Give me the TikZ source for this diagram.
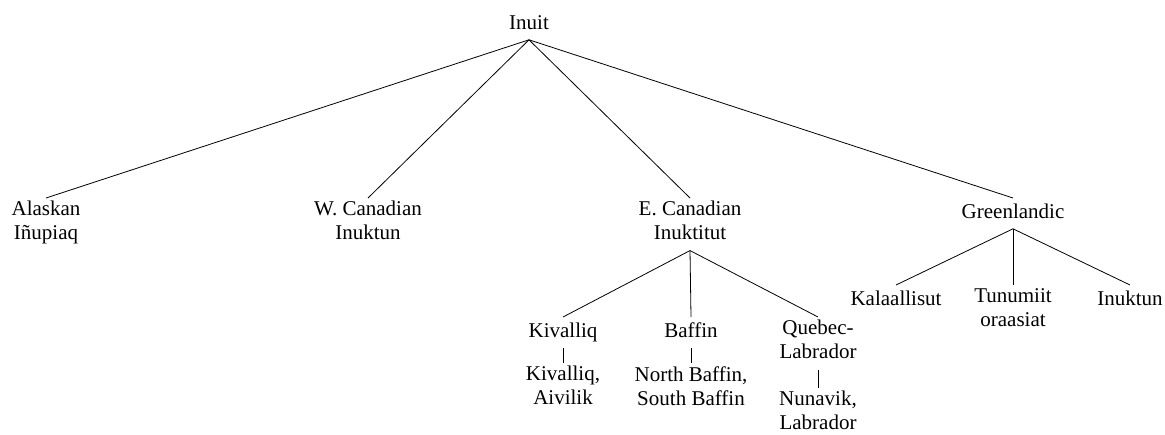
\documentclass[tikz,border=0pt]{standalone}
\usepackage{fontspec}
\setmainfont{Liberation Serif}
\usepackage{tikz}

\begin{document}
\begin{tikzpicture}[x=0.5pt, y=-0.5pt,
		lang/.style={anchor=north, align=center, inner sep=1.5pt,
			font=\fontsize{10.5}{12}\selectfont,
			execute at begin node=\strut, execute at end node=\strut}]
		\useasboundingbox (0,0) rectangle (1165,434);
		\node[lang] (inuit) at (529,9) {Inuit};
		\node[lang] (alaskan) at (46,198) {Alaskan\\Iñupiaq};
		\node[lang] (wcanadian) at (368,198) {W. Canadian\\Inuktun};
		\node[lang] (ecanadian) at (690,198) {E. Canadian\\Inuktitut};
		\node[lang] (greenlandic) at (1013,198) {Greenlandic};
		\node[lang] (kivalliq) at (563,317) {Kivalliq};
		\node[lang] (baffin) at (691,317) {Baffin};
		\node[lang] (quebec) at (818,317) {Quebec-\\Labrador};
		\node[lang] (kivalliqaivilik) at (563,363) {Kivalliq,\\Aivilik};
		\node[lang] (northsouth) at (691,363) {North Baffin,\\South Baffin};
		\node[lang] (nunavik) at (818,388) {Nunavik,\\Labrador};
		\node[lang] (kalaallisut) at (896,285) {Kalaallisut};
		\node[lang] (tunumiit) at (1013,285) {Tunumiit\\oraasiat};
		\node[lang] (inuktun) at (1130,285) {Inuktun};
		\draw (inuit.south) -- (alaskan.north);
		\draw (inuit.south) -- (wcanadian.north);
		\draw (inuit.south) -- (ecanadian.north);
		\draw (inuit.south) -- (greenlandic.north);
		\draw (ecanadian.south) -- (kivalliq.north);
		\draw (ecanadian.south) -- (baffin.north);
		\draw (ecanadian.south) -- (quebec.north);
		\draw (kivalliq.south) -- (kivalliqaivilik.north);
		\draw (baffin.south) -- (northsouth.north);
		\draw (quebec.south) -- (nunavik.north);
		\draw (greenlandic.south) -- (kalaallisut.north);
		\draw (greenlandic.south) -- (tunumiit.north);
		\draw (greenlandic.south) -- (inuktun.north);
	\end{tikzpicture}
\end{document}
